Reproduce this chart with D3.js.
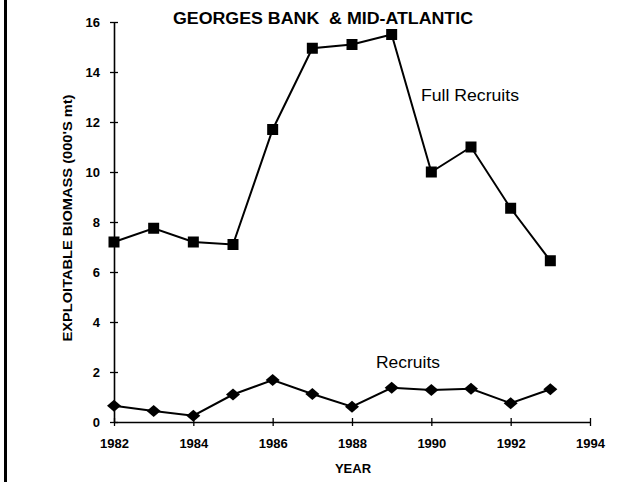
<!DOCTYPE html>
<html>
<head>
<meta charset="utf-8">
<script src="https://cdn.jsdelivr.net/npm/d3@7"></script>
<style>
  html, body { margin: 0; padding: 0; background: #fff; }
  svg { display: block; }
  text { font-family: "Liberation Sans", Arial, sans-serif; fill: #000; }
</style>
</head>
<body>
<svg id="chart" width="621" height="482"></svg>
<script>
// Exploitable biomass (thousands of mt), Georges Bank & Mid-Atlantic
const years = [1982, 1983, 1984, 1985, 1986, 1987, 1988, 1989, 1990, 1991, 1992, 1993];
const fullRecruits = [7.2, 7.75, 7.2, 7.1, 11.7, 14.95, 15.1, 15.5, 10.0, 11.0, 8.55, 6.45];
const recruits = [0.65, 0.44, 0.25, 1.1, 1.68, 1.12, 0.61, 1.37, 1.28, 1.33, 0.75, 1.31];
const xTicks = [1982, 1984, 1986, 1988, 1990, 1992, 1994];
const yTicks = [0, 2, 4, 6, 8, 10, 12, 14, 16];

const svg = d3.select("#chart");
const plotLeft = 114, plotRight = 590, plotTop = 22, plotBottom = 422;

const x = d3.scaleLinear().domain([1982, 1994]).range([plotLeft, plotRight]);
const y = d3.scaleLinear().domain([0, 16]).range([plotBottom, plotTop]);

// frame line along the left edge of the page
svg.append("line")
  .attr("x1", 5.5).attr("x2", 5.5).attr("y1", 0).attr("y2", 482)
  .attr("stroke", "#000").attr("stroke-width", 3);

// Y axis with cross ticks
const yAxis = svg.append("g").attr("transform", `translate(${plotLeft},0)`)
  .call(d3.axisLeft(y).tickValues(yTicks).tickSize(4).tickSizeOuter(0).tickPadding(10));
yAxis.selectAll(".tick line").attr("x2", 4).attr("x1", -4).attr("stroke-width", 1.3);
yAxis.select(".domain").attr("stroke-width", 1.6);
yAxis.selectAll(".tick text")
  .attr("font-size", 13).attr("font-weight", "bold")
  .attr("font-family", "Liberation Sans, Arial, sans-serif");

// X axis with cross ticks
const xAxis = svg.append("g").attr("transform", `translate(0,${plotBottom})`)
  .call(d3.axisBottom(x).tickValues(xTicks).tickFormat(d3.format("d")).tickSize(4).tickSizeOuter(0).tickPadding(13));
xAxis.selectAll(".tick line").attr("y1", -4).attr("y2", 4).attr("stroke-width", 1.3);
xAxis.select(".domain").attr("stroke-width", 1.6);
xAxis.selectAll(".tick text")
  .attr("font-size", 13).attr("font-weight", "bold")
  .attr("font-family", "Liberation Sans, Arial, sans-serif");

const line = d3.line().x(d => x(d[0])).y(d => y(d[1]));

const fullData = years.map((yr, i) => [yr, fullRecruits[i]]);
const recData = years.map((yr, i) => [yr, recruits[i]]);

svg.append("path").datum(fullData).attr("d", line)
  .attr("fill", "none").attr("stroke", "#000").attr("stroke-width", 2);
svg.append("path").datum(recData).attr("d", line)
  .attr("fill", "none").attr("stroke", "#000").attr("stroke-width", 2);

// square markers for full recruits
svg.selectAll("rect.full").data(fullData).join("rect")
  .attr("class", "full")
  .attr("x", d => x(d[0]) - 5.5).attr("y", d => y(d[1]) - 5.5)
  .attr("width", 11).attr("height", 11).attr("fill", "#000");

// diamond markers for recruits
svg.selectAll("path.rec").data(recData).join("path")
  .attr("class", "rec")
  .attr("d", d => {
    const cx = x(d[0]), cy = y(d[1]);
    return `M${cx - 7},${cy} L${cx},${cy - 6} L${cx + 7},${cy} L${cx},${cy + 6} Z`;
  })
  .attr("fill", "#000");

// titles and labels
svg.append("text").attr("x", 323).attr("y", 24).attr("text-anchor", "middle")
  .style("white-space", "pre")
  .attr("font-size", 16).attr("font-weight", "bold")
  .attr("textLength", 300).attr("lengthAdjust", "spacingAndGlyphs")
  .text("GEORGES BANK  & MID-ATLANTIC");

svg.append("text").attr("x", 421).attr("y", 101)
  .attr("font-size", 16).attr("textLength", 98).attr("lengthAdjust", "spacingAndGlyphs")
  .text("Full Recruits");

svg.append("text").attr("x", 376).attr("y", 368)
  .attr("font-size", 16).attr("textLength", 64).attr("lengthAdjust", "spacingAndGlyphs")
  .text("Recruits");

svg.append("text").attr("x", 353).attr("y", 473).attr("text-anchor", "middle")
  .attr("font-size", 13).attr("font-weight", "bold")
  .text("YEAR");

svg.append("text")
  .attr("transform", "translate(72,218) rotate(-90)")
  .attr("text-anchor", "middle")
  .attr("font-size", 12).attr("font-weight", "bold")
  .attr("textLength", 247).attr("lengthAdjust", "spacingAndGlyphs")
  .text("EXPLOITABLE BIOMASS (000'S mt)");
</script>
</body>
</html>
